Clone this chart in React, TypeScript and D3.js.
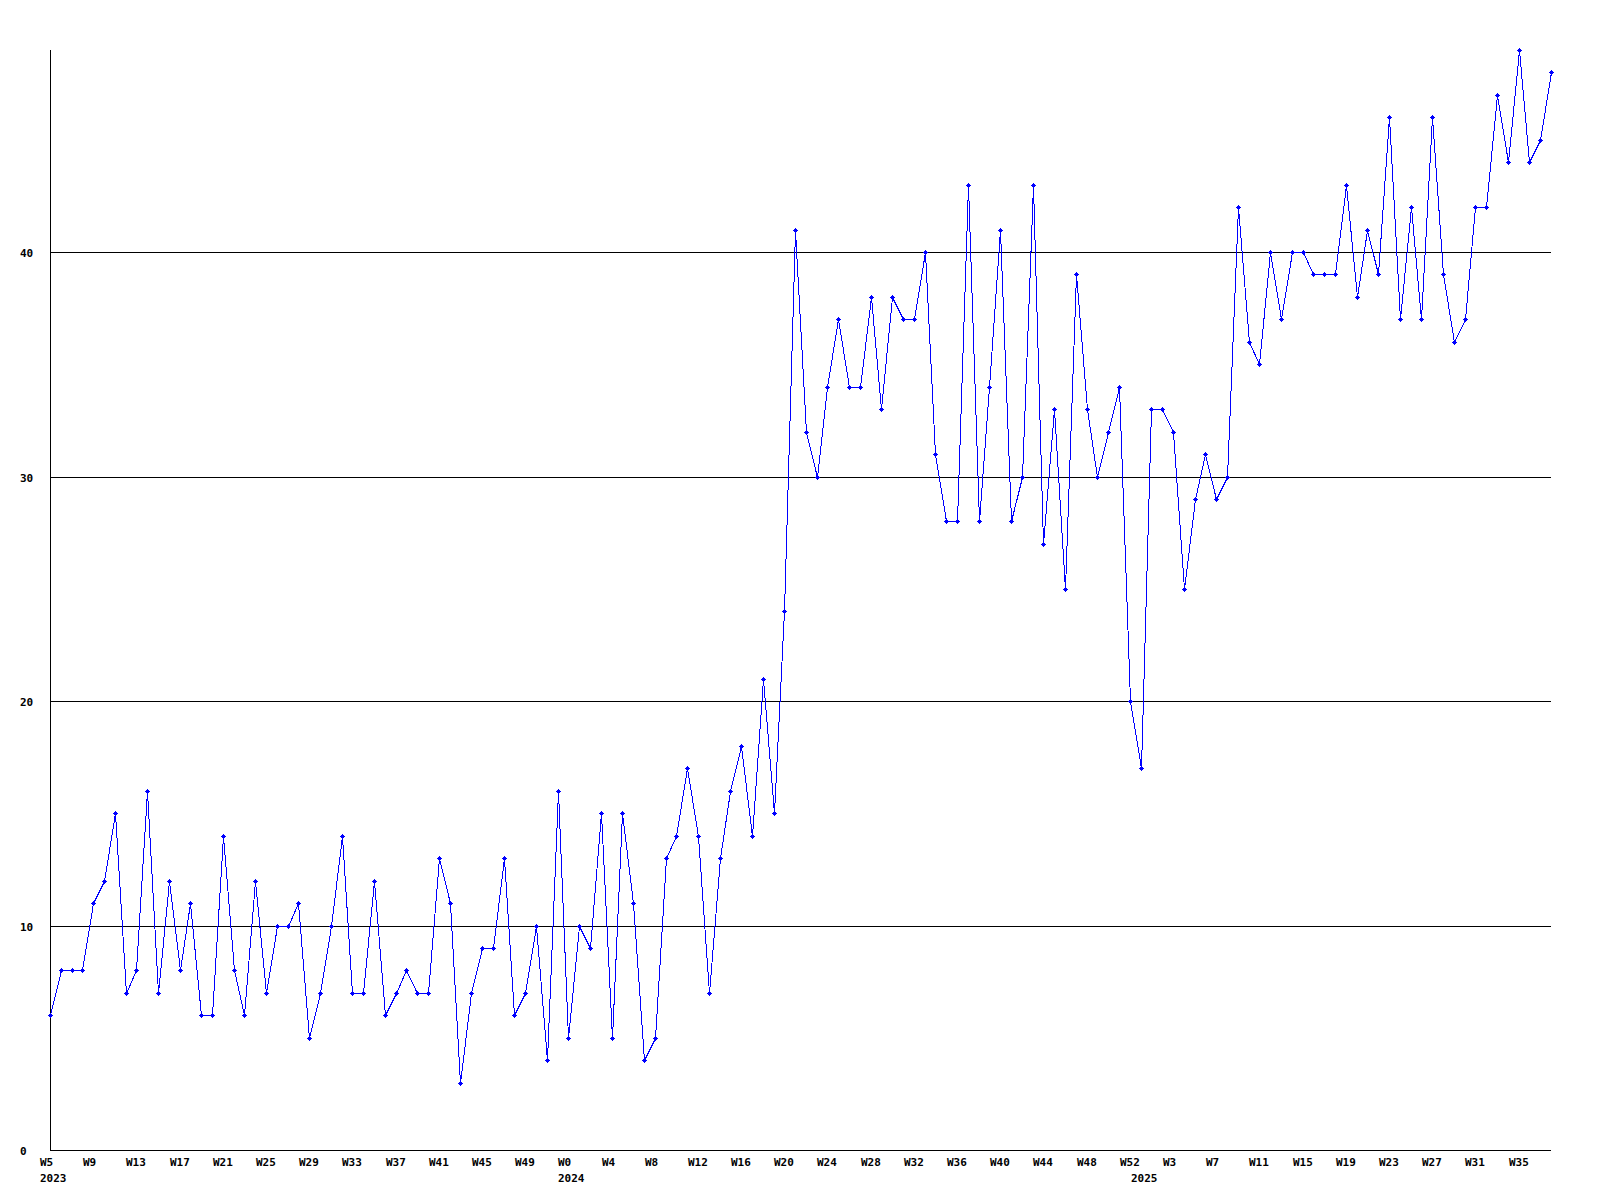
import React from "react";
import * as d3 from "d3";

const values: number[] = [
  6, 8, 8, 8, 11, 12, 15, 7, 8, 16, 7, 12, 8, 11, 6, 6, 14, 8, 6, 12,
  7, 10, 10, 11, 5, 7, 10, 14, 7, 7, 12, 6, 7, 8, 7, 7, 13, 11, 3, 7,
  9, 9, 13, 6, 7, 10, 4, 16, 5, 10, 9, 15, 5, 15, 11, 4, 5, 13, 14, 17,
  14, 7, 13, 16, 18, 14, 21, 15, 24, 41, 32, 30, 34, 37, 34, 34, 38, 33, 38, 37,
  37, 40, 31, 28, 28, 43, 28, 34, 41, 28, 30, 43, 27, 33, 25, 39, 33, 30, 32, 34,
  20, 17, 33, 33, 32, 25, 29, 31, 29, 30, 42, 36, 35, 40, 37, 40, 40, 39, 39, 39,
  43, 38, 41, 39, 46, 37, 42, 37, 46, 39, 36, 37, 42, 42, 47, 44, 49, 44, 45, 48,
];

const tickLabels: string[] = [
  "W5", "W9", "W13", "W17", "W21", "W25", "W29", "W33", "W37", "W41", "W45", "W49",
  "W0", "W4", "W8", "W12", "W16", "W20", "W24", "W28", "W32", "W36", "W40", "W44", "W48", "W52",
  "W3", "W7", "W11", "W15", "W19", "W23", "W27", "W31", "W35",
];
const tickStep = 4;

const yearLabels: string[] = ["2023", "2024", "2025"];
const yearStartIndex: number[] = [0, 48, 101];

const yTicks: number[] = [0, 10, 20, 30, 40];
const yMax = 49;

const LEFT = 50;
const RIGHT = 1551;
const TOP = 50;
const BOTTOM = 1150;
const FONT = "'DejaVu Sans Mono', monospace";

export default function App() {
  const x = d3.scaleLinear().domain([0, values.length - 1]).range([LEFT, RIGHT]);
  const y = d3.scaleLinear().domain([0, yMax]).range([BOTTOM, TOP]);
  const line = d3
    .line<number>()
    .x((_, i) => Math.round(x(i)) + 0.5)
    .y((d) => Math.round(y(d)) + 0.5);

  return (
    <svg
      width={1600}
      height={1200}
      style={{ position: "absolute", left: 0, top: 0, background: "#fff" }}
    >
      <rect x={0} y={0} width={1600} height={1200} fill="#fff" />
      {yTicks.map((t) => {
        const yy = Math.round(y(t)) + 0.5;
        return (
          <g key={t}>
            {t > 0 && (
              <line x1={LEFT} x2={RIGHT} y1={yy} y2={yy} stroke="#000" strokeWidth={1} shapeRendering="crispEdges" />
            )}
            <text x={20} y={yy + 4} fontFamily={FONT} fontWeight="bold" fontSize={11} fill="#000">
              {t}
            </text>
          </g>
        );
      })}
      <line x1={LEFT + 0.5} x2={LEFT + 0.5} y1={TOP} y2={BOTTOM + 1} stroke="#000" strokeWidth={1} shapeRendering="crispEdges" />
      <line x1={LEFT} x2={RIGHT} y1={BOTTOM + 0.5} y2={BOTTOM + 0.5} stroke="#000" strokeWidth={1} shapeRendering="crispEdges" />
      {tickLabels.map((lab, k) => (
        <text
          key={lab + k}
          x={Math.round(x(k * tickStep)) - 10}
          y={1166}
          fontFamily={FONT}
          fontWeight="bold"
          fontSize={11}
          fill="#000"
        >
          {lab}
        </text>
      ))}
      {yearLabels.map((lab, k) => (
        <text
          key={lab}
          x={Math.round(x(yearStartIndex[k])) - 10}
          y={1182}
          fontFamily={FONT}
          fontWeight="bold"
          fontSize={11}
          fill="#000"
        >
          {lab}
        </text>
      ))}
      <path d={line(values) || ""} fill="none" stroke="#0000ff" strokeWidth={1} shapeRendering="crispEdges" />
      {values.map((v, i) => {
        const cx = Math.round(x(i));
        const cy = Math.round(y(v));
        return (
          <path
            key={i}
            d={`M${cx - 2},${cy}h5v1h-5z M${cx},${cy - 2}h1v5h-1z M${cx - 1},${cy - 1}h3v3h-3z`}
            fill="#0000ff"
            shapeRendering="crispEdges"
          />
        );
      })}
    </svg>
  );
}
